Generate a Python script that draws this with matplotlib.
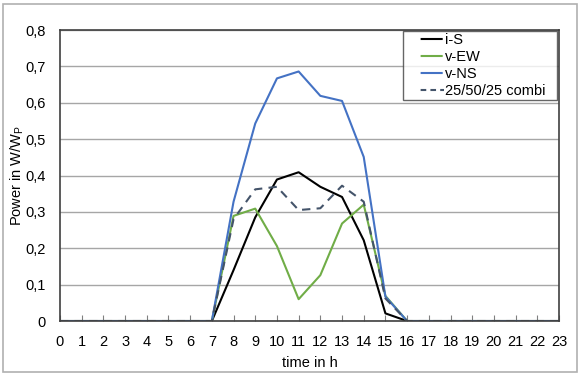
import matplotlib.pyplot as plt
from matplotlib.patches import Rectangle
from matplotlib.lines import Line2D

plt.rcParams['font.family'] = ['Liberation Sans', 'DejaVu Sans']
plt.rcParams['mathtext.fontset'] = 'custom'
plt.rcParams['mathtext.rm'] = 'Liberation Sans'

hours = list(range(24))
i_s = [0, 0, 0, 0, 0, 0, 0, 0, 0.14, 0.285, 0.389, 0.409, 0.369, 0.341, 0.222, 0.021,
       0, 0, 0, 0, 0, 0, 0, 0]
v_ew = [0, 0, 0, 0, 0, 0, 0, 0, 0.289, 0.309, 0.206, 0.060, 0.126, 0.268, 0.320, 0.069,
        0, 0, 0, 0, 0, 0, 0, 0]
v_ns = [0, 0, 0, 0, 0, 0, 0, 0, 0.328, 0.543, 0.667, 0.686, 0.619, 0.605, 0.451, 0.067,
        0, 0, 0, 0, 0, 0, 0, 0]
combi = [0, 0, 0, 0, 0, 0, 0, 0, 0.28, 0.362, 0.369, 0.305, 0.310, 0.372, 0.328, 0.062,
         0, 0, 0, 0, 0, 0, 0, 0]
y_ticks = [0, 0.1, 0.2, 0.3, 0.4, 0.5, 0.6, 0.7, 0.8]
y_labels = ['0', '0,1', '0,2', '0,3', '0,4', '0,5', '0,6', '0,7', '0,8']
names = ['i-S', 'v-EW', 'v-NS', '25/50/25 combi']
colors = ['black', '#70AD47', '#4472C4', '#44546A']

fig = plt.figure(figsize=(5.8, 3.77), dpi=100)
fig.patches.append(Rectangle((0.006, 0.012), 0.988, 0.978, transform=fig.transFigure,
                             fill=False, edgecolor='#b0b0b0', linewidth=1.2))
ax = fig.add_axes([0.1034, 0.1485, 0.8604, 0.7719])

dash = (0, (4, 3))
ax.plot(hours, i_s, color=colors[0], lw=1.5)
ax.plot(hours, v_ew, color=colors[1], lw=1.5)
ax.plot(hours, v_ns, color=colors[2], lw=1.5)
ax.plot(hours, combi, color=colors[3], lw=1.5, ls=dash)

ax.set_xlim(0, 23)
ax.set_ylim(0, 0.8)
ax.set_xticks(hours)
ax.set_yticks(y_ticks)
ax.set_yticklabels(y_labels)
ax.grid(axis='y', color='#a6a6a6', lw=1)
ax.set_axisbelow(True)
ax.tick_params(axis='x', direction='in', length=4, color='#808080', labelsize=10.5, pad=10)
ax.tick_params(axis='y', length=0, labelsize=10.5, pad=10)
for s in ax.spines.values():
    s.set_color('#404040')
    s.set_linewidth(1.2)

ax.set_xlabel('time in h', fontsize=10.5, labelpad=5)
ax.set_ylabel('Power in W/W$_\\mathrm{P}$', fontsize=10.5, labelpad=0)

# legend handles: short line with some blank space in front (like the Excel legend)
solid_h = (0, (0, 7.5, 10.6, 100))
dash_h = (0, (0, 7.5, 2.7, 2, 2.7, 2, 2.7, 100))
handles = [Line2D([], [], color=c, lw=1.5, ls=solid_h) for c in colors[:3]]
handles.append(Line2D([], [], color=colors[3], lw=1.5, ls=dash_h))
leg = ax.legend(handles, names, loc='upper left', bbox_to_anchor=(0.687, 0.5, 0.309, 0.4966),
                mode='expand', fontsize=10.5, frameon=True, fancybox=False,
                handlelength=2.7, handletextpad=0.05, labelspacing=0.2,
                borderpad=0.15, borderaxespad=0)
leg.get_frame().set_edgecolor('#404040')
leg.get_frame().set_linewidth(1)

plt.savefig('out.png', dpi=100)
